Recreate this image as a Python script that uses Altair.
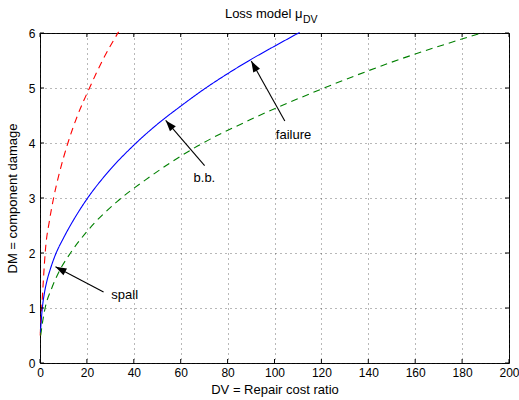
import math
import altair as alt
import pandas as pd

# Loss model curves: DV = repair cost ratio, DM = component damage
upper_dv = [0.1, 0.4, 0.8, 1.5, 2.3, 4, 5.8, 8, 11.9, 16, 21.1, 27, 33.5]
upper_dm = [0.5, 0.8, 1.05, 1.55, 2.05, 2.58, 3.0, 3.41, 4.0, 4.5, 5.0, 5.53, 6.02]

median_dv = [0.2, 0.5, 1, 2, 3, 4.5, 6.5, 10, 15, 20, 30, 40, 50, 60, 70, 80, 90, 100, 110.7]
median_dm = [0.55, 0.75, 1.0, 1.3, 1.5, 1.72, 1.96, 2.27, 2.65, 2.98, 3.52, 3.96, 4.34,
             4.67, 4.98, 5.26, 5.52, 5.76, 6.01]

lower_dv = [0.3, 1, 2.2, 5, 8, 13, 20, 33, 45, 67, 90, 120, 150, 189]
lower_dm = [0.5, 0.72, 1.0, 1.36, 1.65, 2.0, 2.39, 2.94, 3.33, 3.94, 4.43, 4.98, 5.47, 6.01]

# Annotations pointing at the median curve
ann_label = ["spall", "b.b.", "failure"]
ann_head_dv = [6.6, 53.6, 90.1]
ann_head_dm = [1.75, 4.41, 5.49]
ann_tail_dv = [27.1, 70.2, 104.4]
ann_tail_dm = [1.29, 3.59, 4.40]
ann_text_dv = [36.1, 70.1, 108.1]
ann_text_dm = [1.23, 3.36, 4.15]

x_ticks = list(range(0, 201, 20))
y_ticks = list(range(0, 7))

W, H = 469, 330
FONT = "Liberation Sans"

curves = pd.concat([
    pd.DataFrame({"dv": upper_dv, "dm": upper_dm, "curve": "upper"}),
    pd.DataFrame({"dv": median_dv, "dm": median_dm, "curve": "median"}),
    pd.DataFrame({"dv": lower_dv, "dm": lower_dm, "curve": "lower"}),
])

sx, sy = W / 200.0, H / 6.0
ann = pd.DataFrame({
    "label": ann_label,
    "hx": ann_head_dv, "hy": ann_head_dm,
    "tx": ann_tail_dv, "ty": ann_tail_dm,
    "lx": ann_text_dv, "ly": ann_text_dm,
})
# rotation of the arrowhead (clockwise from "up" on screen)
ann["angle"] = [
    (math.degrees(math.atan2((hx - tx) * sx, (hy - ty) * sy)) + 360) % 360
    for hx, hy, tx, ty in zip(ann.hx, ann.hy, ann.tx, ann.ty)
]

xs = alt.Scale(domain=[0, 200], nice=False, zero=False)
ys = alt.Scale(domain=[0, 6], nice=False, zero=False)

x_axis = alt.Axis(values=x_ticks, format="d", title="DV = Repair cost ratio", grid=True,
                  tickSize=0, domain=False, labelPadding=4, titlePadding=5,
                  labelFlush=False, labelOverlap=False, labelBound=False)
y_axis = alt.Axis(values=y_ticks, format="d", title="DM = component damage", grid=True,
                  tickSize=0, domain=False, labelPadding=5, titlePadding=9,
                  labelFlush=False, labelOverlap=False, labelBound=False)

lines = alt.Chart(curves).mark_line(strokeWidth=1.1, interpolate="monotone").encode(
    x=alt.X("dv:Q", scale=xs, axis=x_axis),
    y=alt.Y("dm:Q", scale=ys, axis=y_axis),
    color=alt.Color("curve:N", scale=alt.Scale(domain=["upper", "median", "lower"],
                                               range=["#ff0000", "#0000ff", "#008000"]),
                    legend=None),
    strokeDash=alt.StrokeDash("curve:N", scale=alt.Scale(domain=["upper", "median", "lower"],
                                                         range=[[7, 5], [1, 0], [7, 5]]),
                              legend=None),
    detail="curve:N",
    order="dv:Q",
)

arrow_lines = alt.Chart(ann).mark_rule(color="black", strokeWidth=1.1).encode(
    x=alt.X("tx:Q", scale=xs), y=alt.Y("ty:Q", scale=ys),
    x2="hx:Q", y2="hy:Q",
)

arrow_heads = alt.Chart(ann).mark_point(
    shape="M0,0 L-0.7,2 L0.7,2 Z", filled=True, color="black", opacity=1, size=121,
).encode(
    x=alt.X("hx:Q", scale=xs), y=alt.Y("hy:Q", scale=ys),
    angle=alt.Angle("angle:Q", scale=None),
)

ann_text = alt.Chart(ann).mark_text(font=FONT, fontSize=13, color="black",
                                    align="center", baseline="middle").encode(
    x=alt.X("lx:Q", scale=xs), y=alt.Y("ly:Q", scale=ys), text="label:N",
)

# inward tick marks on all four sides of the box
xt = pd.DataFrame({"v": x_ticks})
yt = pd.DataFrame({"v": y_ticks})
tick_style = dict(color="black", strokeWidth=1)
ticks_bottom = alt.Chart(xt).mark_rule(**tick_style).encode(
    x=alt.X("v:Q", scale=xs), y=alt.value(H), y2=alt.value(H - 4))
ticks_top = alt.Chart(xt).mark_rule(**tick_style).encode(
    x=alt.X("v:Q", scale=xs), y=alt.value(0), y2=alt.value(4))
ticks_left = alt.Chart(yt).mark_rule(**tick_style).encode(
    y=alt.Y("v:Q", scale=ys), x=alt.value(0), x2=alt.value(4))
ticks_right = alt.Chart(yt).mark_rule(**tick_style).encode(
    y=alt.Y("v:Q", scale=ys), x=alt.value(W), x2=alt.value(W - 4))

# title with a subscript
title_main = alt.Chart(pd.DataFrame({"t": ["Loss model μ"]})).mark_text(
    font=FONT, fontSize=13, align="right", baseline="alphabetic", color="black"
).encode(x=alt.value(262.5), y=alt.value(-15.5), text="t:N")
title_sub = alt.Chart(pd.DataFrame({"t": ["DV"]})).mark_text(
    font=FONT, fontSize=10.5, align="left", baseline="alphabetic", color="black"
).encode(x=alt.value(263), y=alt.value(-10.3), text="t:N")

chart = alt.layer(
    lines, arrow_lines, arrow_heads, ann_text,
    ticks_bottom, ticks_top, ticks_left, ticks_right,
    title_main, title_sub,
).properties(
    width=W, height=H,
    autosize=alt.AutoSizeParams(type="none"),
    padding={"left": 40, "top": 33, "right": 10, "bottom": 37},
    background="white",
).configure_view(
    stroke="black", strokeWidth=1,
).configure_axis(
    labelFont=FONT, labelFontSize=12, labelColor="black",
    titleFont=FONT, titleFontSize=13, titleColor="black", titleFontWeight="normal",
    gridColor="#333333", gridDash=[1, 4], gridOpacity=0.7, gridWidth=1,
)

chart.save("out.html", embed_options={"renderer": "svg", "actions": False})
